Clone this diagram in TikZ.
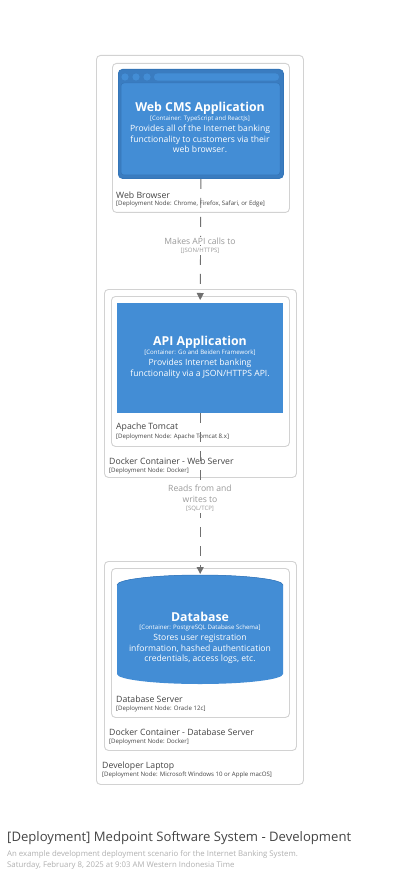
\documentclass[tikz,border=0pt]{standalone}
\usepackage{fontspec}
\setmainfont{Open Sans}
\usetikzlibrary{arrows.meta}
\definecolor{boxline}{HTML}{D2D2D2}
\definecolor{ctext}{HTML}{444444}
\definecolor{cblue}{HTML}{438DD5}
\definecolor{cbluedark}{HTML}{3A7CC0}
\definecolor{cblueline}{HTML}{3475B8}
\definecolor{arrowgray}{HTML}{707070}
\definecolor{labelgray}{HTML}{9A9A9A}
\definecolor{subgray}{HTML}{B0B0B0}
\tikzset{
  x=1pt,y=-1pt,
  dnode/.style={draw=boxline, line width=0.9pt, rounded corners=4pt, fill=white, anchor=north west, inner sep=0pt},
  dname/.style={anchor=west, inner sep=0pt, text=ctext, font=\fontsize{8.7}{10}\selectfont},
  ddetail/.style={anchor=west, inner sep=0pt, text=ctext, font=\fontsize{6.1}{7}\selectfont},
  ctitle/.style={anchor=center, inner sep=0pt, text=white, font=\bfseries\fontsize{12.3}{14}\selectfont},
  ctag/.style={anchor=center, inner sep=0pt, text=white, font=\fontsize{6.1}{7}\selectfont},
  cdesc/.style={anchor=north, inner sep=0pt, text=white, align=center, font=\fontsize{8.6}{10.6}\selectfont},
  rel/.style={draw=arrowgray, line width=0.9pt, dash pattern=on 10pt off 9pt, -{Triangle[length=7pt,width=7pt]}},
  rlabel/.style={fill=white, inner sep=1pt, text=labelgray, align=center, font=\fontsize{8.6}{11}\selectfont},
  rtag/.style={fill=white, inner sep=1pt, text=labelgray, font=\fontsize{6}{7}\selectfont},
}
\begin{document}
\begin{tikzpicture}
\useasboundingbox[fill=white] (0,0) rectangle (400,874);

% deployment nodes
\node[dnode, minimum width=207, minimum height=729] (laptop) at (96,55) {};
\node[dnode, minimum width=177, minimum height=149] (browser) at (112,63) {};
\node[dnode, minimum width=192, minimum height=188] (dockerweb) at (104,289) {};
\node[dnode, minimum width=178, minimum height=150] (tomcat) at (111,296) {};
\node[dnode, minimum width=192, minimum height=189] (dockerdb) at (104,561) {};
\node[dnode, minimum width=178, minimum height=149] (dbserver) at (111,568) {};

% Web CMS application (browser shape)
\node[draw=cblueline, fill=cbluedark, rounded corners=4pt, line width=0.8pt, minimum width=165, minimum height=109, anchor=north west, inner sep=0pt] (cms) at (118,69) {};
\fill[cblue, draw=cblueline, line width=0.5pt, rounded corners=3pt] (121,83) rectangle (280,175);
\foreach \cx in {125,136,147} \fill[cblue] (\cx,77) circle (3.6);
\fill[cblue, rounded corners=3.5pt] (154,73.4) rectangle (279,80.6);
\node[ctitle] (cmsT) at (200,108) {Web CMS Application};
\node[ctag] (cmsG) at (200,119) {[Container: TypeScript and ReactJs]};
\node[cdesc] (cmsD) at (200,125) {Provides all of the Internet banking\\functionality to customers via their\\web browser.};

\node[dname] (browserN) at (116,195) {Web Browser};
\node[ddetail] (browserD) at (116,203.5) {[Deployment Node: Chrome, Firefox, Safari, or Edge]};

% API application
\node[fill=cblue, minimum width=166, minimum height=110, anchor=north west, inner sep=0pt] (api) at (117,303) {};
\node[ctitle] (apiT) at (200,342) {API Application};
\node[ctag] (apiG) at (200,352.5) {[Container: Go and Beiden Framework]};
\node[cdesc] (apiD) at (200,359) {Provides Internet banking\\functionality via a JSON/HTTPS API.};

\node[dname] (tomcatN) at (116,427) {Apache Tomcat};
\node[ddetail] (tomcatD) at (116,437) {[Deployment Node: Apache Tomcat 8.x]};
\node[dname] (dockerwebN) at (109,461) {Docker Container - Web Server};
\node[ddetail] (dockerwebD) at (109,470.5) {[Deployment Node: Docker]};

% Database (cylinder)
\coordinate (dbtop) at (200,575);
\fill[cblue] (117,585) arc[start angle=180, end angle=360, x radius=83, y radius=10]
  -- (283,674) arc[start angle=0, end angle=180, x radius=83, y radius=10] -- cycle;
\fill[cblue] (200,585) ellipse[x radius=83, y radius=10];
\draw[cblueline, line width=0.5pt] (117,585) arc[start angle=180, end angle=0, x radius=83, y radius=-10];
\node[inner sep=0pt, minimum width=166, minimum height=109, anchor=north west] (db) at (117,575) {};
\node[ctitle] (dbT) at (200,617) {Database};
\node[ctag] (dbG) at (200,627.5) {[Container: PostgreSQL Database Schema]};
\node[cdesc] (dbD) at (200,634) {Stores user registration\\information, hashed authentication\\credentials, access logs, etc.};

\node[dname] (dbserverN) at (116,699) {Database Server};
\node[ddetail] (dbserverD) at (116,708.5) {[Deployment Node: Oracle 12c]};
\node[dname] (dockerdbN) at (109,732) {Docker Container - Database Server};
\node[ddetail] (dockerdbD) at (109,742) {[Deployment Node: Docker]};
\node[dname] (laptopN) at (102,766) {Developer Laptop};
\node[ddetail] (laptopD) at (102,775) {[Deployment Node: Microsoft Windows 10 or Apple macOS]};

% relationships
\draw[rel, shorten >=3pt] (cms.south) -- (api.north);
\node[rlabel] (r1) at (200,241) {Makes API calls to};
\node[rtag] (r1t) at (200,251) {[JSON/HTTPS]};
\draw[rel, shorten >=1pt] (api.south) -- (db.north);
\node[rlabel] (r2) at (200,493.5) {Reads from and\\writes to};
\node[rtag] (r2t) at (200,509) {[SQL/TCP]};

% title
\node[anchor=west, inner sep=0pt, text=ctext, font=\fontsize{13.1}{15}\selectfont] (title) at (7,838) {[Deployment] Medpoint Software System - Development};
\node[anchor=west, inner sep=0pt, text=subgray, font=\fontsize{7.8}{9}\selectfont] (sub1) at (7,854) {An example development deployment scenario for the Internet Banking System.};
\node[anchor=west, inner sep=0pt, text=subgray, font=\fontsize{7.8}{9}\selectfont] (sub2) at (7,865) {Saturday, February 8, 2025 at 9:03 AM Western Indonesia Time};
\end{tikzpicture}
\end{document}
